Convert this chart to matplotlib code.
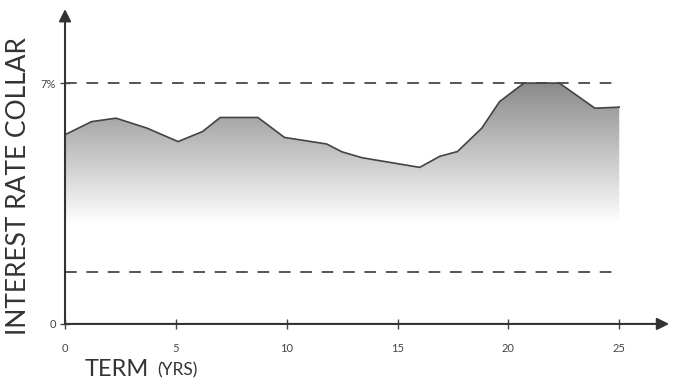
import numpy as np
import matplotlib
matplotlib.use("Agg")
import matplotlib.pyplot as plt
from matplotlib.colors import LinearSegmentedColormap
from matplotlib.patches import Polygon

plt.rcParams['font.family'] = ['Lato', 'DejaVu Sans']

term = [0, 1.2, 2.3, 3.7, 5.1, 6.2, 7.0, 8.7, 9.9, 11.8, 12.5, 13.4, 16.0,
        16.9, 17.7, 18.8, 19.6, 20.7, 22.3, 23.9, 25.0]
rate = [5.5, 5.88, 5.98, 5.69, 5.3, 5.59, 6.0, 6.0, 5.42, 5.23, 5.0, 4.83, 4.55,
        4.87, 5.01, 5.69, 6.46, 7.0, 7.0, 6.27, 6.3]
collar = [7.0, 1.5]
xticks = [0, 5, 10, 15, 20, 25]
ytick_vals = [0, 7]
ytick_labels = ['0', '7%']

fig = plt.figure(figsize=(6.73, 3.82), dpi=100)
ax = fig.add_axes([0.0966, 0.152, 0.896, 0.817])
ax.set_xlim(0, 27.2)
ax.set_ylim(0, 9.07)
for s in ax.spines.values():
    s.set_visible(False)

# gradient fill under the curve
cmap = LinearSegmentedColormap.from_list('g', ['#ffffff', '#8a8a8a'])
grad = np.linspace(0, 1, 256).reshape(-1, 1)
im = ax.imshow(grad, cmap=cmap, aspect='auto', origin='lower',
               extent=[0, 25, 2.9, 7.0], zorder=1)
poly = Polygon(list(zip(term, rate)) + [(25, 0), (0, 0)], closed=True,
               facecolor='none', edgecolor='none')
ax.add_patch(poly)
im.set_clip_path(poly)
ax.plot(term, rate, color='#444444', lw=1.2, zorder=3)

# collar bounds
for c in collar:
    ax.plot([0, 25], [c, c], color='#555555', lw=1.4, dashes=(6, 5), zorder=2)

# axes with arrows
ax.annotate('', xy=(27.25, 0), xytext=(0, 0),
            arrowprops=dict(arrowstyle='-|>', color='#333333', lw=1.5,
                            mutation_scale=18, shrinkA=0, shrinkB=0),
            annotation_clip=False, zorder=4)
ax.annotate('', xy=(0, 9.15), xytext=(0, 0),
            arrowprops=dict(arrowstyle='-|>', color='#333333', lw=1.5,
                            mutation_scale=18, shrinkA=0, shrinkB=0),
            annotation_clip=False, zorder=4)

ax.set_xticks(xticks)
ax.set_yticks(ytick_vals)
ax.set_yticklabels(ytick_labels)
ax.tick_params(axis='both', direction='inout', length=7, width=1,
               color='#444444', labelcolor='#444444', labelsize=8)
ax.tick_params(axis='x', pad=10)
ax.tick_params(axis='y', pad=3)

fig.text(0.028, 0.512, 'INTEREST RATE COLLAR', rotation=90, fontsize=19,
         color='#333333', ha='center', va='center')
fig.text(0.126, 0.017, 'TERM', fontsize=17, color='#333333', ha='left',
         va='baseline')
fig.text(0.233, 0.017, '(YRS)', fontsize=12.5, color='#333333', ha='left',
         va='baseline')

fig.savefig('out.png', dpi=100)
